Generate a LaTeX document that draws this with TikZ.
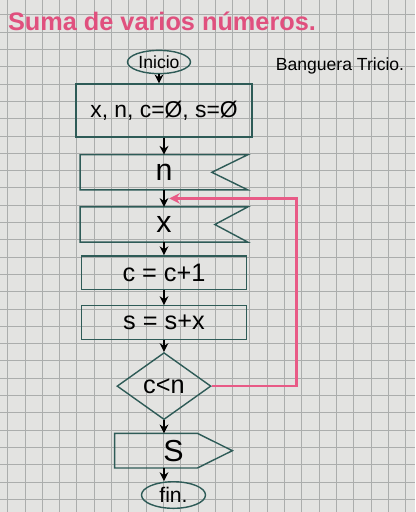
\documentclass[tikz,border=0pt]{standalone}
\usepackage{fontspec}
\setmainfont{Liberation Sans}
\usetikzlibrary{arrows.meta,positioning,shapes.geometric}

\definecolor{paperbg}{HTML}{E3E3E1}
\definecolor{gridgray}{HTML}{ABADAC}
\definecolor{inkteal}{HTML}{2E5B57}
\definecolor{loopink}{HTML}{E85A86}
\definecolor{titlepink}{HTML}{E0507E}

\tikzset{
  gridline/.style={draw=gridgray, line width=0.5pt},
  terminal/.style={ellipse, draw=inkteal, thick, inner sep=1pt},
  procbox/.style={rectangle, draw=inkteal, thick, minimum width=3.3cm, minimum height=0.67cm, font=\Large},
  inbox/.style={rectangle, minimum width=3.34cm, minimum height=0.69cm, font=\LARGE},
  decision/.style={diamond, draw=inkteal, thick, minimum width=1.88cm, minimum height=1.34cm, inner sep=0pt, font=\Large},
  outbox/.style={rectangle, minimum width=2.34cm, minimum height=0.68cm, font=\LARGE},
  edge/.style={draw=inkteal, thick},
  flow/.style={-{Stealth[length=5pt,width=5pt]}, line width=1pt, black},
  back/.style={-{Stealth[length=6pt,width=6pt]}, line width=1.4pt, loopink},
}

\begin{document}
\begin{tikzpicture}
        \useasboundingbox[fill=paperbg] (0,0) rectangle (8.3,-10.24);
        \foreach \gx in {0,...,23}
            \draw[gridline] ({0.154+\gx*0.346},0) -- ++(0,-10.24);
        \foreach \gy in {0,...,29}
            \draw[gridline] (0,{-0.298-\gy*0.346}) -- ++(8.3,0);

        \node[titlepink, font=\Large\bfseries] (title) at (3.24,-0.42) {Suma de varios números.};
        \node[font=\normalsize] (author) at (6.8,-1.32) {Banguera Tricio.};

        \node[terminal, minimum width=1.26cm, minimum height=0.34cm] (start) at (3.18,-1.24) {Inicio};
        \node[procbox, minimum width=3.52cm, minimum height=1.06cm, font=\fontsize{13}{15}\selectfont] (init) at (3.28,-2.21) {x, n, c=Ø, s=Ø};
        \node[inbox] (readn) [below=0.34cm of init] {n};
        \node[inbox] (readx) [below=0.34cm of readn] {x};
        \node[procbox] (count) [below=0.26cm of readx] {c = c+1};
        \node[procbox] (sum) [below=0.3cm of count] {s = s+x};
        \node[decision] (test) [below=0.24cm of sum] {c<n};
        \node[outbox] (show) [below=0.26cm of test, xshift=0.19cm] {S};
        \node[terminal, minimum width=1.28cm, minimum height=0.5cm, font=\large] (fin) [below=0.26cm of show] {fin.};
        \coordinate (join) at ([yshift=-0.17cm]readn.south);

        \draw[edge] (readn.north east) -- (readn.north west) -- (readn.south west) -- (readn.south east) -- ([xshift=-0.72cm]readn.east) -- cycle;
        \draw[edge] (readx.north east) -- (readx.north west) -- (readx.south west) -- (readx.south east) -- ([xshift=-0.66cm]readx.east) -- cycle;
        \draw[edge] (show.north west) -- ([xshift=-0.7cm]show.north east) -- (show.east) -- ([xshift=-0.7cm]show.south east) -- (show.south west) -- cycle;

        \draw[flow] (start.south) -- (start.south |- init.north);
        \draw[flow] (init) -- (readn);
        \draw[flow] (readn) -- (readx);
        \draw[flow] (readx) -- (count);
        \draw[flow] (count) -- (sum);
        \draw[flow] (sum) -- (test);
        \draw[flow] (test.south) -- (test.south |- show.north);
        \draw[flow] (show.south -| test.south) -- (test.south |- fin.north);
        \draw[back, shorten >=3pt] (test.east) -- ++(1.7,0) |- (join);
\end{tikzpicture}
\end{document}
